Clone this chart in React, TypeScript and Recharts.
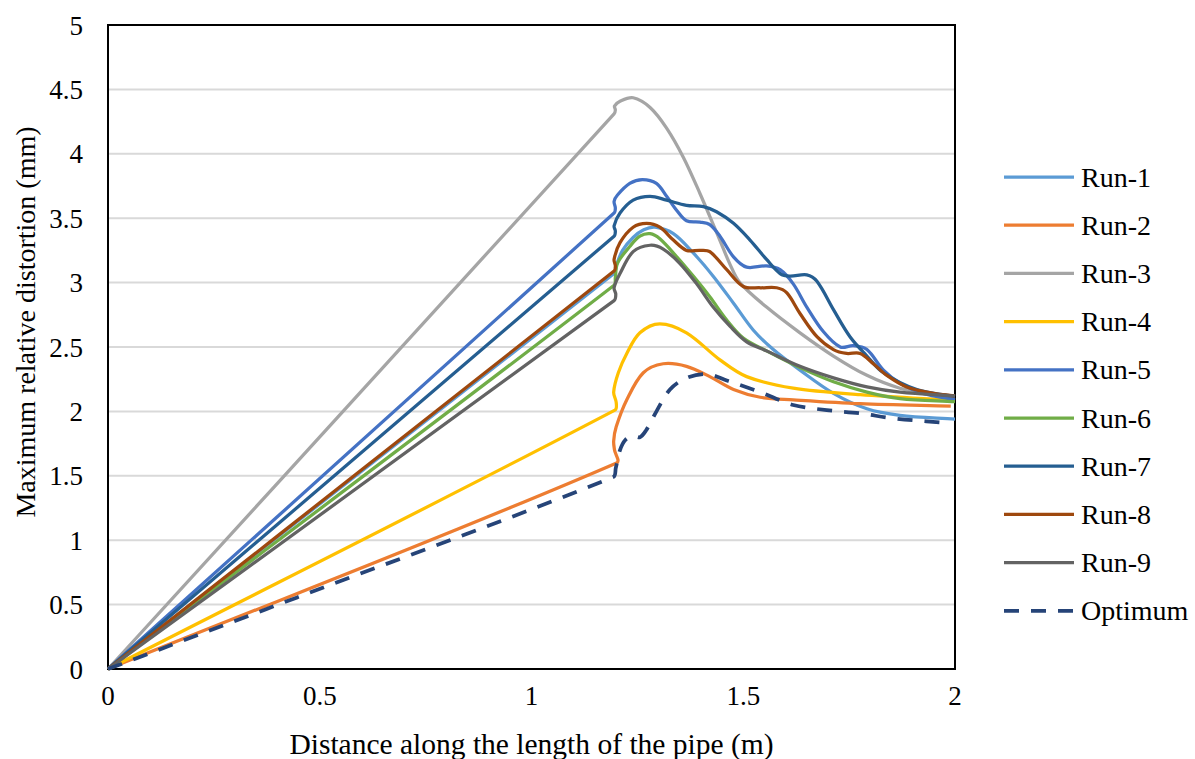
import React from 'react';
import { LineChart, Line, XAxis, YAxis, CartesianGrid, ReferenceArea, Label } from 'recharts';

type Pt = [number, number];

const X_TICKS = [0, 0.5, 1, 1.5, 2];
const Y_TICKS = [0, 0.5, 1, 1.5, 2, 2.5, 3, 3.5, 4, 4.5, 5];

const SERIES_NAMES = ['Run-1', 'Run-2', 'Run-3', 'Run-4', 'Run-5', 'Run-6', 'Run-7', 'Run-8', 'Run-9', 'Optimum'];

const RUN1: Pt[] = [[0, 0], [1.195, 3.07], [1.2, 3.13], [1.215, 3.25], [1.24, 3.35], [1.265, 3.41], [1.292, 3.43], [1.335, 3.38], [1.382, 3.23], [1.429, 3.05], [1.477, 2.84], [1.524, 2.63], [1.571, 2.48], [1.634, 2.32], [1.713, 2.14], [1.792, 2.02], [1.87, 1.97], [2, 1.94]];
const RUN2: Pt[] = [[0, 0], [1.201, 1.6], [1.196, 1.7], [1.194, 1.77], [1.2, 1.88], [1.225, 2.09], [1.264, 2.3], [1.311, 2.37], [1.366, 2.35], [1.421, 2.27], [1.477, 2.17], [1.54, 2.11], [1.618, 2.09], [1.776, 2.06], [1.99, 2.04]];
const RUN3: Pt[] = [[0, 0], [1.195, 4.31], [1.198, 4.34], [1.196, 4.37], [1.21, 4.41], [1.24, 4.435], [1.28, 4.36], [1.319, 4.2], [1.359, 3.97], [1.398, 3.69], [1.437, 3.39], [1.469, 3.14], [1.492, 3.0], [1.555, 2.81], [1.634, 2.61], [1.713, 2.43], [1.792, 2.28], [1.87, 2.18], [1.95, 2.13], [2, 2.12]];
const RUN4: Pt[] = [[0, 0], [1.197, 2.01], [1.2, 2.07], [1.194, 2.15], [1.205, 2.3], [1.225, 2.45], [1.256, 2.61], [1.303, 2.68], [1.366, 2.61], [1.445, 2.4], [1.508, 2.27], [1.618, 2.18], [1.776, 2.13], [2, 2.085]];
const RUN5: Pt[] = [[0, 0], [1.195, 3.54], [1.198, 3.58], [1.195, 3.63], [1.203, 3.68], [1.232, 3.77], [1.262, 3.8], [1.295, 3.77], [1.319, 3.67], [1.343, 3.56], [1.366, 3.48], [1.398, 3.47], [1.421, 3.45], [1.445, 3.36], [1.477, 3.2], [1.508, 3.12], [1.555, 3.13], [1.587, 3.1], [1.618, 2.99], [1.65, 2.81], [1.689, 2.62], [1.729, 2.5], [1.76, 2.51], [1.792, 2.48], [1.831, 2.32], [1.87, 2.22], [1.925, 2.14], [2, 2.09]];
const RUN6: Pt[] = [[0, 0], [1.195, 2.98], [1.198, 3.04], [1.203, 3.15], [1.232, 3.28], [1.256, 3.36], [1.28, 3.38], [1.303, 3.34], [1.343, 3.2], [1.382, 3.05], [1.421, 2.89], [1.461, 2.71], [1.5, 2.57], [1.555, 2.47], [1.634, 2.34], [1.713, 2.23], [1.792, 2.15], [1.87, 2.1], [2, 2.075]];
const RUN7: Pt[] = [[0, 0], [1.195, 3.36], [1.198, 3.4], [1.195, 3.44], [1.209, 3.54], [1.24, 3.64], [1.28, 3.67], [1.319, 3.64], [1.366, 3.6], [1.406, 3.59], [1.437, 3.55], [1.477, 3.46], [1.516, 3.33], [1.555, 3.18], [1.587, 3.07], [1.61, 3.05], [1.65, 3.06], [1.674, 3.01], [1.713, 2.79], [1.752, 2.58], [1.792, 2.43], [1.831, 2.3], [1.91, 2.17], [2, 2.115]];
const RUN8: Pt[] = [[0, 0], [1.195, 3.09], [1.198, 3.13], [1.195, 3.18], [1.209, 3.31], [1.24, 3.43], [1.272, 3.46], [1.303, 3.43], [1.335, 3.33], [1.366, 3.25], [1.398, 3.25], [1.421, 3.24], [1.461, 3.1], [1.5, 2.97], [1.54, 2.96], [1.579, 2.96], [1.603, 2.92], [1.634, 2.76], [1.674, 2.58], [1.713, 2.48], [1.744, 2.45], [1.776, 2.45], [1.807, 2.37], [1.839, 2.28], [1.886, 2.19], [1.949, 2.14], [2, 2.12]];
const RUN9: Pt[] = [[0, 0], [1.195, 2.86], [1.199, 2.91], [1.195, 2.96], [1.209, 3.07], [1.24, 3.24], [1.28, 3.29], [1.311, 3.26], [1.35, 3.15], [1.39, 2.99], [1.429, 2.81], [1.469, 2.66], [1.508, 2.54], [1.555, 2.47], [1.634, 2.35], [1.713, 2.26], [1.792, 2.19], [1.87, 2.15], [2, 2.12]];
const OPTIMUM: Pt[] = [[0, 0], [0.45, 0.56], [1.193, 1.49], [1.199, 1.56], [1.209, 1.7], [1.222, 1.78], [1.24, 1.81], [1.256, 1.8], [1.27, 1.85], [1.29, 1.97], [1.327, 2.17], [1.366, 2.26], [1.414, 2.29], [1.461, 2.24], [1.54, 2.15], [1.618, 2.05], [1.697, 2.01], [1.776, 1.985], [1.854, 1.946], [1.972, 1.912]];

const SERIES_POINTS: Pt[][] = [RUN1, RUN2, RUN3, RUN4, RUN5, RUN6, RUN7, RUN8, RUN9, OPTIMUM];
const SERIES_COLORS = ['#5B9BD5', '#ED7D31', '#A5A5A5', '#FFC000', '#4472C4', '#70AD47', '#255E91', '#9E480E', '#636363', '#264478'];

const FONT = '"Liberation Serif", "Times New Roman", Tinos, "DejaVu Serif", serif';
const TEXT_STYLE: React.CSSProperties = { fontFamily: FONT };

// Smooth curve (chord-length Catmull-Rom style), similar to Excel's smoothed lines
function smoothCurve(context: any) {
  let pts: number[][] = [];
  return {
    areaStart() {},
    areaEnd() {},
    lineStart() {
      pts = [];
    },
    point(x: number, y: number) {
      pts.push([+x, +y]);
    },
    lineEnd() {
      const n = pts.length;
      if (!n) return;
      context.moveTo(pts[0][0], pts[0][1]);
      if (n === 1) return;
      const d: number[] = [];
      for (let i = 0; i < n - 1; i++) {
        d.push(Math.max(1e-6, Math.hypot(pts[i + 1][0] - pts[i][0], pts[i + 1][1] - pts[i][1])));
      }
      const tan = (i: number): number[] => {
        if (i === 0) return [(pts[1][0] - pts[0][0]) / d[0], (pts[1][1] - pts[0][1]) / d[0]];
        if (i === n - 1) return [(pts[n - 1][0] - pts[n - 2][0]) / d[n - 2], (pts[n - 1][1] - pts[n - 2][1]) / d[n - 2]];
        const s = d[i - 1] + d[i];
        return [(pts[i + 1][0] - pts[i - 1][0]) / s, (pts[i + 1][1] - pts[i - 1][1]) / s];
      };
      for (let i = 0; i < n - 1; i++) {
        const t0 = tan(i);
        const t1 = tan(i + 1);
        const k = d[i] / 3;
        context.bezierCurveTo(
          pts[i][0] + t0[0] * k,
          pts[i][1] + t0[1] * k,
          pts[i + 1][0] - t1[0] * k,
          pts[i + 1][1] - t1[1] * k,
          pts[i + 1][0],
          pts[i + 1][1]
        );
      }
    },
  };
}

const XTick = (props: any) => {
  const { x, y, payload } = props;
  return (
    <text x={x} y={y + 36} textAnchor="middle" fontSize={27} fill="#000" style={TEXT_STYLE}>
      {String(payload.value)}
    </text>
  );
};

const YTick = (props: any) => {
  const { x, y, payload } = props;
  return (
    <text x={x} y={y + 9.5} textAnchor="end" fontSize={27} fill="#000" style={TEXT_STYLE}>
      {String(payload.value)}
    </text>
  );
};

const LegendBox = () => (
  <svg width={199} height={480} style={{ display: 'block', overflow: 'visible' }}>
    {SERIES_NAMES.map((name, i) => {
      const y = 24 + i * 48.2;
      return (
        <g key={name}>
          <line
            x1={8}
            x2={78}
            y1={y}
            y2={y}
            stroke={SERIES_COLORS[i]}
            strokeWidth={i === 9 ? 3.75 : 3.25}
            strokeDasharray={i === 9 ? '15 12' : undefined}
          />
          <text x={85} y={y + 9.5} fontSize={28} style={TEXT_STYLE} fill="#000">
            {name}
          </text>
        </g>
      );
    })}
  </svg>
);

const YTitle = (props: any) => {
  const vb = props.viewBox || { x: 0, y: 25, width: 108, height: 644 };
  const cx = 25;
  const cy = vb.y + vb.height / 2 - 25;
  return (
    <text
      x={cx}
      y={cy}
      transform={`rotate(-90 ${cx} ${cy})`}
      textAnchor="middle"
      dominantBaseline="central"
      fontSize={28}
      style={TEXT_STYLE}
      fill="#000"
    >
      Maximum relative distortion (mm)
    </text>
  );
};

const XTitle = (props: any) => {
  const vb = props.viewBox || { x: 108, y: 669, width: 847, height: 90 };
  const cx = vb.x + vb.width / 2;
  return (
    <text x={cx} y={vb.y + 85} textAnchor="middle" fontSize={29.5} style={TEXT_STYLE} fill="#000">
      Distance along the length of the pipe (m)
    </text>
  );
};

export default function App() {
  return (
    <div style={{ position: 'absolute', left: 0, top: 0, width: 1195, height: 759, overflow: 'hidden', background: '#fff', fontFamily: FONT }}>
      <LineChart width={1195} height={759} margin={{ top: 25, right: 240, bottom: 0, left: 0 }} style={TEXT_STYLE}>
        <CartesianGrid vertical={false} stroke="#D9D9D9" strokeWidth={2} />
        <XAxis
          type="number"
          dataKey="x"
          domain={[0, 2]}
          ticks={X_TICKS}
          height={90}
          axisLine={false}
          tickLine={false}
          tickSize={0}
          tickMargin={0}
          tick={<XTick />}
          interval={0}
        >
          <Label content={<XTitle />} />
        </XAxis>
        <YAxis
          type="number"
          domain={[0, 5]}
          ticks={Y_TICKS}
          width={108}
          axisLine={false}
          tickLine={false}
          tickSize={0}
          tickMargin={25}
          tick={<YTick />}
          interval={0}
        >
          <Label content={<YTitle />} />
        </YAxis>
        <ReferenceArea x1={0} x2={2} y1={0} y2={5} fill="none" fillOpacity={0} stroke="#000" strokeWidth={2} />
        {SERIES_POINTS.map((pts, i) => (
          <Line
            key={SERIES_NAMES[i]}
            name={SERIES_NAMES[i]}
            data={pts.map(([x, y]) => ({ x, y }))}
            dataKey="y"
            type={smoothCurve as any}
            stroke={SERIES_COLORS[i]}
            strokeWidth={i === 9 ? 3.75 : 3.25}
            strokeDasharray={i === 9 ? '15 12' : undefined}
            dot={false}
            activeDot={false}
            isAnimationActive={false}
          />
        ))}
      </LineChart>
      <div style={{ position: 'absolute', left: 996, top: 153, width: 199, height: 480 }}>
        <LegendBox />
      </div>
    </div>
  );
}
